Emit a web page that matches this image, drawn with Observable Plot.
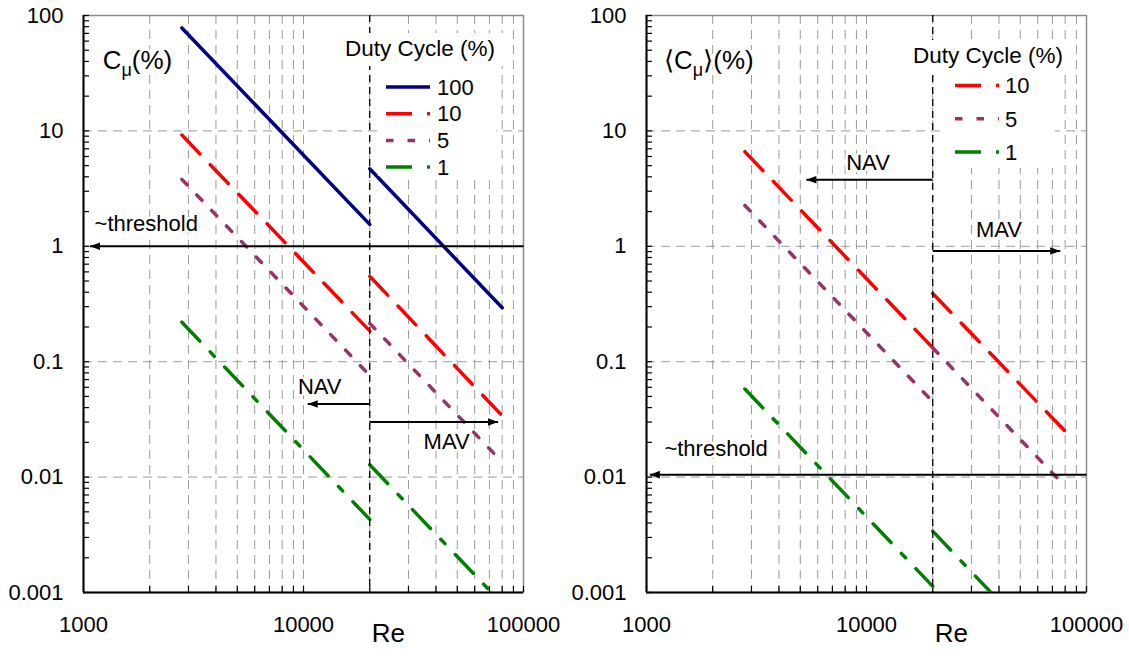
<!DOCTYPE html>
<html>
<head>
<meta charset="utf-8">
<script src="https://cdn.jsdelivr.net/npm/d3@7"></script>
<script src="https://cdn.jsdelivr.net/npm/@observablehq/plot@0.6"></script>
<style>
  body { margin: 0; background: #fff; }
  #wrap { display: flex; width: 1129px; height: 658px; }
  svg text { font-family: "Liberation Sans", Arial, sans-serif; }
</style>
</head>
<body>
<div id="wrap"></div>
<script>
// ---------------- data ----------------
// Reynolds-number ends of the two regimes (NAV below 20000, MAV above)
const reNAV = [2800, 20000];
const reMAV = [20000, 80000];
const reSplit = 20000;

// Left panel: C_mu (%) per duty cycle
const dutyLeft = ["100", "10", "5", "1"];
const cmuNAV100 = [78, 1.55];
const cmuMAV100 = [4.7, 0.293];
const cmuNAV10 = [9.2, 0.185];
const cmuMAV10 = [0.55, 0.034];
const cmuNAV5 = [3.8, 0.076];
const cmuMAV5 = [0.215, 0.0135];
const cmuNAV1 = [0.22, 0.0043];
const cmuMAV1 = [0.0128, 0.0008];

// Right panel: <C_mu> (%) per duty cycle
const dutyRight = ["10", "5", "1"];
const avgNAV10 = [6.6, 0.132];
const avgMAV10 = [0.39, 0.025];
const avgNAV5 = [2.26, 0.045];
const avgMAV5 = [0.132, 0.0083];
const avgNAV1 = [0.058, 0.00113];
const avgMAV1 = [0.0034, 0.00021];

// axes
const xDomain = [1000, 100000];
const yDomain = [0.001, 100];
const xTickLabels = [1000, 10000, 100000];
const yTickLabels = [0.001, 0.01, 0.1, 1, 10, 100];
const xGrid = [2000, 3000, 4000, 5000, 6000, 7000, 8000, 9000, 10000,
               20000, 30000, 40000, 50000, 60000, 70000, 80000, 90000];
const yGrid = [0.01, 0.1, 1, 10];
const xMinorTicks = [1000, 2000, 3000, 4000, 5000, 6000, 7000, 8000, 9000, 10000,
                     20000, 30000, 40000, 50000, 60000, 70000, 80000, 90000, 100000];
const yMinorTicks = [0.001, 0.002, 0.003, 0.004, 0.005, 0.006, 0.007, 0.008, 0.009,
                     0.01, 0.02, 0.03, 0.04, 0.05, 0.06, 0.07, 0.08, 0.09,
                     0.1, 0.2, 0.3, 0.4, 0.5, 0.6, 0.7, 0.8, 0.9,
                     1, 2, 3, 4, 5, 6, 7, 8, 9,
                     10, 20, 30, 40, 50, 60, 70, 80, 90, 100];

// annotations
const leftArrows = [
  {y: 1, from: 100000, tip: 1070},     // ~threshold
  {y: 0.043, from: 20000, tip: 10450}, // NAV
  {y: 0.030, from: 20000, tip: 76600}  // MAV
];
const leftTexts = [
  {x: 1123, y: 1.55, text: "~threshold", anchor: "start"},
  {x: 11850, y: 0.060, text: "NAV", anchor: "middle"},
  {x: 44700, y: 0.020, text: "MAV", anchor: "middle"}
];
const rightArrows = [
  {y: 0.0105, from: 100000, tip: 1035},
  {y: 3.77, from: 20000, tip: 5330},
  {y: 0.91, from: 20000, tip: 76000}
];
const rightTexts = [
  {x: 1206, y: 0.0177, text: "~threshold", anchor: "start"},
  {x: 10160, y: 5.3, text: "NAV", anchor: "middle"},
  {x: 40000, y: 1.39, text: "MAV", anchor: "middle"}
];
const leftYTitle = {x: 1222, y: 40.5, pre: "C", sub: "μ", post: "(%)"};
const rightYTitle = {x: 1202, y: 40.5, pre: "⟨C", sub: "μ", post: "⟩(%)"};
const xTitle = "Re";
const xTitleAt = 24300;
const legendTitle = "Duty Cycle (%)";

// styles
const dutyColor = {"100": "#000080", "10": "#FF0000", "5": "#993366", "1": "#008000"};
const dutyDash = {"100": null, "10": "26,15", "5": "7.5,14", "1": "26,15,6,15"};

const H = 658, MT = 15, MB = 66;

function rows(nav, mav) {
  return [
    {re: reNAV[0], v: nav[0], seg: "NAV"}, {re: reNAV[1], v: nav[1], seg: "NAV"},
    {re: reMAV[0], v: mav[0], seg: "MAV"}, {re: reMAV[1], v: mav[1], seg: "MAV"}
  ];
}
const leftSeries = {
  "100": rows(cmuNAV100, cmuMAV100), "10": rows(cmuNAV10, cmuMAV10),
  "5": rows(cmuNAV5, cmuMAV5), "1": rows(cmuNAV1, cmuMAV1)
};
const rightSeries = {
  "10": rows(avgNAV10, avgMAV10), "5": rows(avgNAV5, avgMAV5), "1": rows(avgNAV1, avgMAV1)
};

const arrowLeftSym = {draw(ctx) { ctx.moveTo(0, 0); ctx.lineTo(10, -3.8); ctx.lineTo(10, 3.8); ctx.closePath(); }};
const arrowRightSym = {draw(ctx) { ctx.moveTo(0, 0); ctx.lineTo(-10, -3.8); ctx.lineTo(-10, 3.8); ctx.closePath(); }};

function panel(cfg) {
  const innerW = cfg.width - cfg.ml - cfg.mr;
  const innerH = H - MT - MB;
  const textStyle = {x: "x", y: "y", text: "text", fontSize: 22, fill: "black",
    stroke: "white", strokeWidth: 5, paintOrder: "stroke"};
  const marks = [
    Plot.ruleX(xGrid, {stroke: "#9a9a9a", strokeWidth: 1, strokeDasharray: "9,6"}),
    Plot.ruleY(yGrid, {stroke: "#9a9a9a", strokeWidth: 1, strokeDasharray: "9,6"}),
    Plot.frame({stroke: "#8c8c8c", strokeWidth: 1.5}),
    Plot.ruleX([xDomain[0]], {stroke: "black", strokeWidth: 2}),
    Plot.ruleY([yDomain[0]], {stroke: "black", strokeWidth: 2}),
    Plot.tickY(yMinorTicks, {stroke: "black", strokeWidth: 1.2, insetRight: innerW - 6}),
    Plot.tickX(xMinorTicks, {stroke: "black", strokeWidth: 1.2, insetTop: innerH - 6}),
    Plot.axisY({ticks: yTickLabels, tickSize: 0, tickPadding: 20, tickFormat: d => String(d), label: null, fontSize: 22}),
    Plot.axisX({ticks: xTickLabels, tickSize: 0, tickPadding: 24, tickFormat: d => String(d), label: null, fontSize: 22})
  ];
  for (const k of cfg.keys) {
    marks.push(Plot.line(cfg.series[k], {
      x: "re", y: "v", z: "seg", stroke: dutyColor[k], strokeWidth: 3.5,
      strokeDasharray: dutyDash[k] || undefined, clip: true
    }));
  }
  marks.push(Plot.ruleX([reSplit], {stroke: "black", strokeWidth: 1.3, strokeDasharray: "7,5"}));
  marks.push(Plot.link(cfg.arrows, {x1: "from", x2: "tip", y1: "y", y2: "y", stroke: "black", strokeWidth: 2}));
  marks.push(Plot.dot(cfg.arrows.filter(a => a.tip < a.from), {x: "tip", y: "y", symbol: arrowLeftSym, fill: "black", stroke: "none"}));
  marks.push(Plot.dot(cfg.arrows.filter(a => a.tip > a.from), {x: "tip", y: "y", symbol: arrowRightSym, fill: "black", stroke: "none"}));
  marks.push(Plot.text(cfg.texts.filter(d => d.anchor === "start"), {...textStyle, textAnchor: "start"}));
  marks.push(Plot.text(cfg.texts.filter(d => d.anchor === "middle"), {...textStyle, textAnchor: "middle"}));
  marks.push(Plot.text([cfg.ytitle], {x: "x", y: "y", text: d => d.pre + d.sub + d.post, textAnchor: "start", fontSize: 26, fill: "black",
    stroke: "white", strokeWidth: 6, paintOrder: "stroke"}));
  marks.push(Plot.text([xTitle], {x: () => xTitleAt, frameAnchor: "bottom", dy: 49.7, text: d => d, fontSize: 26, fill: "black"}));

  const svg = Plot.plot({
    width: cfg.width, height: H,
    marginLeft: cfg.ml, marginRight: cfg.mr, marginTop: MT, marginBottom: MB,
    x: {type: "log", domain: xDomain},
    y: {type: "log", domain: yDomain},
    style: {fontFamily: "'Liberation Sans', Arial, sans-serif", fontSize: "22px", color: "black", background: "white", overflow: "visible"},
    marks
  });

  // subscript mu in the y title
  const yt = cfg.ytitle;
  d3.select(svg).selectAll("text").filter(function() { return this.textContent === yt.pre + yt.sub + yt.post; })
    .each(function() {
      const t = d3.select(this);
      t.text("");
      t.append("tspan").text(yt.pre);
      t.append("tspan").attr("font-size", 18).attr("dy", 7).text(yt.sub);
      t.append("tspan").attr("dy", -7).text(yt.post);
    });

  // legend (layout only)
  const L = cfg.legend;
  const g = d3.select(svg).append("g").attr("text-anchor", "start");
  g.append("rect").attr("x", L.box[0]).attr("y", L.box[1]).attr("width", L.box[2]).attr("height", L.box[3]).attr("fill", "white");
  cfg.keys.forEach((k, i) => {
    const y = L.row0 + i * L.dRow;
    g.append("line").attr("x1", L.sx).attr("x2", L.sx + 44).attr("y1", y).attr("y2", y)
      .attr("stroke", dutyColor[k]).attr("stroke-width", 3.5)
      .attr("stroke-dasharray", dutyDash[k]);
    g.append("text").attr("x", L.lx).attr("y", y).attr("dy", "0.35em").attr("font-size", 22)
      .attr("text-anchor", "start").attr("fill", "black").text(k);
  });
  g.append("rect").attr("x", L.tbox[0]).attr("y", L.tbox[1]).attr("width", L.tbox[2]).attr("height", L.tbox[3]).attr("fill", "white");
  g.append("text").attr("x", L.tx).attr("y", L.ty).attr("font-size", 22.5).attr("text-anchor", "start")
    .attr("fill", "black").text(legendTitle);
  return svg;
}

const wrap = document.getElementById("wrap");
wrap.appendChild(panel({
  width: 565, ml: 83, mr: 42, keys: dutyLeft, series: leftSeries,
  arrows: leftArrows, texts: leftTexts, ytitle: leftYTitle,
  legend: {box: [378, 66, 118, 110], sx: 386, lx: 437, row0: 87, dRow: 26.7,
           tbox: [340, 33, 166, 33], tx: 345, ty: 56}
}));
wrap.appendChild(panel({
  width: 564, ml: 81, mr: 43, keys: dutyRight, series: rightSeries,
  arrows: rightArrows, texts: rightTexts, ytitle: rightYTitle,
  legend: {box: [380, 72, 110, 96], sx: 390, lx: 440, row0: 85.5, dRow: 33.3,
           tbox: [343, 40, 162, 32], tx: 348, ty: 63.3}
}));
</script>
</body>
</html>
